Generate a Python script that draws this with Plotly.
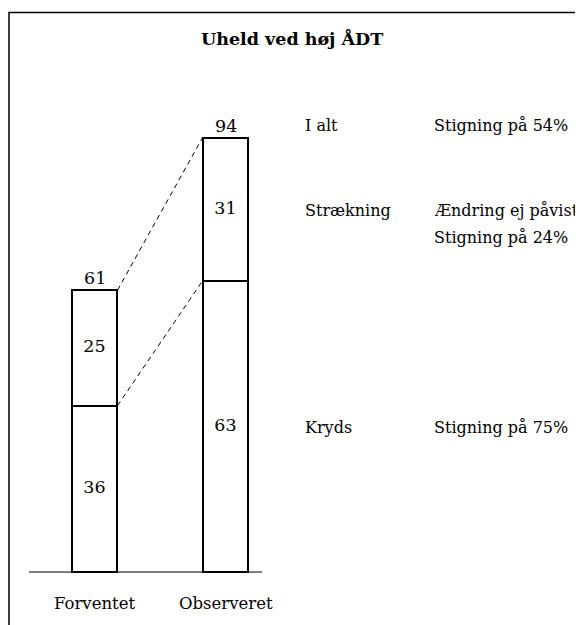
import plotly.graph_objects as go

categories = ["Forventet", "Observeret"]
kryds = [36, 63]
straekning = [25, 31]
totals = [61, 94]
right_labels = ["I alt", "Strækning", "Kryds"]
right_notes = [["Stigning på 54%"], ["Ændring ej påvist,", "Stigning på 24%"], ["Stigning på 75%"]]
title = "Uheld ved høj ÅDT"

FONT = "DejaVu Serif"
FS = 16.5
FR = 16
FN = 17.5
W, H = 583, 625
xpos = list(range(len(categories)))
bw = 0.351

fig = go.Figure()
line = dict(color="black", width=2)
fig.add_trace(go.Bar(x=xpos, y=kryds, width=bw, marker=dict(color="white", line=line),
                     showlegend=False, hoverinfo="skip"))
fig.add_trace(go.Bar(x=xpos, y=straekning, width=bw, marker=dict(color="white", line=line),
                     showlegend=False, hoverinfo="skip"))

dash = dict(color="black", width=1, dash="5px,4px")
fig.add_trace(go.Scatter(x=[xpos[0] + bw / 2, xpos[1] - bw / 2], y=[totals[0], totals[1]],
                         mode="lines", line=dash, showlegend=False, hoverinfo="skip"))
fig.add_trace(go.Scatter(x=[xpos[0] + bw / 2, xpos[1] - bw / 2], y=[kryds[0], kryds[1]],
                         mode="lines", line=dash, showlegend=False, hoverinfo="skip"))

mid_k = [k / 2 for k in kryds]
mid_s = [k + s / 2 for k, s in zip(kryds, straekning)]
fig.add_trace(go.Scatter(x=xpos + xpos, y=mid_k + mid_s, mode="text",
                         text=[str(v) for v in kryds + straekning],
                         textfont=dict(family=FONT, size=FN, color="black"),
                         showlegend=False, hoverinfo="skip"))

f = dict(family=FONT, size=FS, color="black")
fr = dict(family=FONT, size=FR, color="black")
fn = dict(family=FONT, size=FN, color="black")
annotations = []
for x, t in zip(xpos, totals):
    annotations.append(dict(x=x, y=t, text=str(t), showarrow=False, yanchor="bottom",
                            font=fn, yshift=0))
for x, c in zip(xpos, categories):
    annotations.append(dict(x=x, y=0, text=c, showarrow=False, yanchor="middle",
                            font=f, yshift=-31))

row_y = [totals[1], mid_s[1], mid_k[1]]
for i, (lab, notes, yv) in enumerate(zip(right_labels, right_notes, row_y)):
    if i == 0:
        anch, ys = "bottom", 1
    else:
        anch, ys = "middle", -1
    annotations.append(dict(x=1.59, y=yv, text=lab, showarrow=False, xanchor="left",
                            yanchor=anch, yshift=ys, font=fr))
    for j, note in enumerate(notes):
        annotations.append(dict(x=2.575, y=yv, text=note, showarrow=False, xanchor="left",
                                yanchor=anch, yshift=ys - 27 * j, font=fr))

annotations.append(dict(xref="paper", yref="paper", x=284 / W, y=1 - 30 / H,
                        text="<b>" + title + "</b>", showarrow=False,
                        xanchor="center", yanchor="middle",
                        font=dict(family=FONT, size=17.5, color="black")))

shapes = [
    dict(type="line", xref="x", yref="y", x0=-0.5, x1=1.279, y0=0, y1=0,
         line=dict(color="black", width=1)),
    dict(type="rect", xref="paper", yref="paper", x0=1 / W, x1=1.02, y0=-0.02, y1=1 - 4.5 / H,
         line=dict(color="black", width=1.5)),
]

fig.update_layout(
    width=W, height=H, margin=dict(l=0, r=0, t=0, b=0),
    paper_bgcolor="white", plot_bgcolor="white", barmode="stack", bargap=0,
    xaxis=dict(range=[-0.6603, 3.790], visible=False, fixedrange=True),
    yaxis=dict(range=[-13.2, 122.08], visible=False, fixedrange=True),
    annotations=annotations, shapes=shapes, font=dict(family=FONT),
)
fig.write_html("out.html")
